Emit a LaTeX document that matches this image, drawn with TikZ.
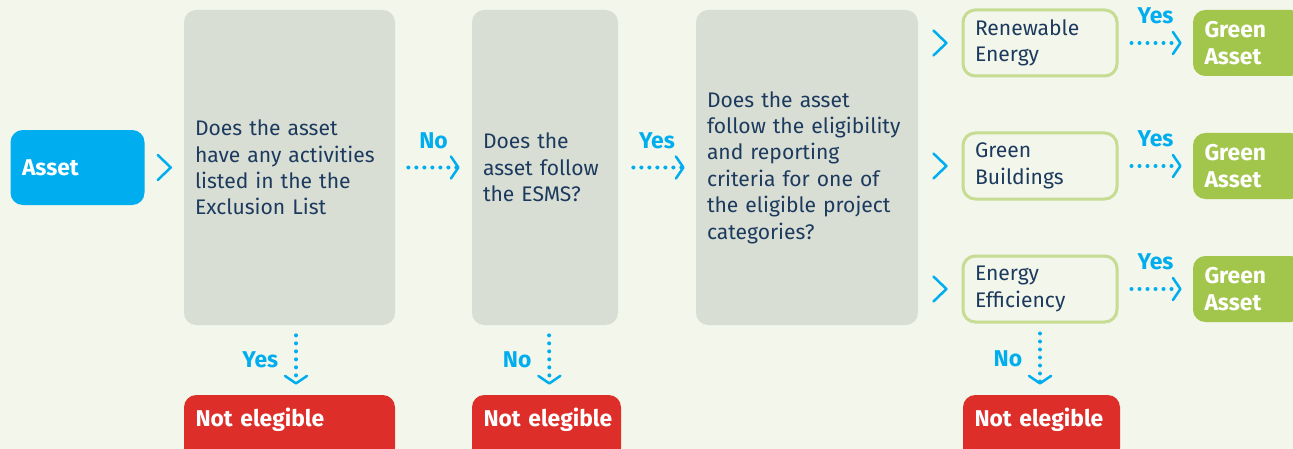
\documentclass[tikz,border=0pt]{standalone}
\usepackage{fontspec}
\setmainfont{Fira Sans}
\usetikzlibrary{arrows.meta,positioning,calc}

\definecolor{bgcol}{HTML}{F3F6EA}
\definecolor{skyblue}{HTML}{00AEEF}
\definecolor{stonegray}{HTML}{D9DED4}
\definecolor{navytext}{HTML}{1C3A5E}
\definecolor{leafgreen}{HTML}{A2C64B}
\definecolor{palegreen}{HTML}{C6DC92}
\definecolor{alertred}{HTML}{DE2E2A}

\begin{document}
\begin{tikzpicture}[
    question/.style={fill=stonegray, rounded corners=7pt, minimum height=6.3cm, inner xsep=0.22cm, align=left, text=navytext, font=\fontsize{12}{15}\selectfont},
    category/.style={draw=palegreen, line width=0.06cm, rounded corners=7pt, minimum height=1.32cm, inner xsep=0.24cm, text width=2.6cm, align=left, text=navytext, font=\fontsize{12}{15}\selectfont},
    solid box/.style={rounded corners=7pt, inner xsep=0.23cm, align=left, text=white, font=\bfseries\fontsize{13}{15}\selectfont},
    result/.style={solid box, fill=leafgreen, minimum height=1.32cm, text width=1.74cm},
    reject/.style={solid box, fill=alertred, minimum height=1.3cm, text depth=0.4cm},
    chev/.style={draw=skyblue, line width=0.05cm, line cap=round, line join=round},
    arr/.style={draw=skyblue, line width=0.08cm, line cap=round, dash pattern=on 0pt off 0.16cm,
        -{Straight Barb[length=0.15cm, width=0.44cm, line width=0.05cm, round]}},
    answer/.style={text=skyblue, font=\bfseries\fontsize{13}{15}\selectfont}
]
\useasboundingbox (0,0) rectangle (25.86,-8.98);
\fill[bgcol] (0,0) rectangle (25.86,-8.98);
\clip (0,0) rectangle (25.86,-8.98);

% entry and questions
\node[solid box, fill=skyblue, minimum height=1.5cm, text width=2.22cm] (asset) at (1.55,-3.35) {Asset};
\node[question, text width=3.78cm] (q1) at (5.79,-3.35) {Does the asset\\have any activities\\listed in the the\\Exclusion List};
\node[question, text width=2.48cm] (q2) at (10.9,-3.35) {Does the\\asset follow\\the ESMS?};
\node[question, text width=4.0cm] (q3) at (16.14,-3.35) {Does the asset\\follow the eligibility\\and reporting\\criteria for one of\\the eligible project\\categories?};

% project categories
\node[category] (cat1) at (20.8,-0.86) {Renewable\\Energy};
\node[category] (cat2) at (20.8,-3.32) {Green\\Buildings};
\node[category] (cat3) at (20.8,-5.78) {Energy\\Efficiency};

\node[result] (g1) at (24.96,-0.86) {Green\\Asset};
\node[result] (g2) at (24.96,-3.32) {Green\\Asset};
\node[result] (g3) at (24.96,-5.78) {Green\\Asset};

% rejections
\node[reject, text width=3.76cm] (ne1) at (5.79,-8.55) {\mbox{Not elegible}};
\node[reject, text width=2.52cm] (ne2) at (10.93,-8.55) {\mbox{Not elegible}};
\node[reject, text width=2.68cm] (ne3) at (20.83,-8.55) {\mbox{Not elegible}};

% chevrons
\draw[chev] ($(asset.east)!0.5!(q1.west)$) ++(-0.13,0.25) -- ++(0.26,-0.25) -- ++(-0.26,-0.25);
\foreach \c in {cat1,cat2,cat3}
    \draw[chev] ($(q3.east|-\c)!0.5!(\c.west)$) ++(-0.13,0.25) -- ++(0.26,-0.25) -- ++(-0.26,-0.25);

% answers
\draw[arr, shorten <=0.26cm, shorten >=0.24cm] (q1.east) -- node[answer, above=0.22cm] {No} (q2.west);
\draw[arr, shorten <=0.3cm, shorten >=0.22cm] (q2.east) -- node[answer, above=0.22cm] {Yes} (q3.west);
\foreach \i in {1,2,3}
    \draw[arr, shorten <=0.26cm, shorten >=0.22cm] (cat\i.east) -- node[answer, above=0.22cm] {Yes} (g\i.west);

\draw[arr, shorten <=0.2cm, shorten >=0.2cm] ([xshift=0.13cm]q1.south) -- node[answer, left=0.2cm] {Yes} ([xshift=0.13cm]ne1.north);
\draw[arr, shorten <=0.2cm, shorten >=0.2cm] ([xshift=0.08cm]q2.south) -- node[answer, left=0.2cm] {No} ([xshift=0.06cm]ne2.north);
\draw[arr, shorten <=0.2cm, shorten >=0.2cm] (cat3.south) -- node[answer, left=0.2cm] {No} (cat3.south|-ne3.north);
\end{tikzpicture}
\end{document}
